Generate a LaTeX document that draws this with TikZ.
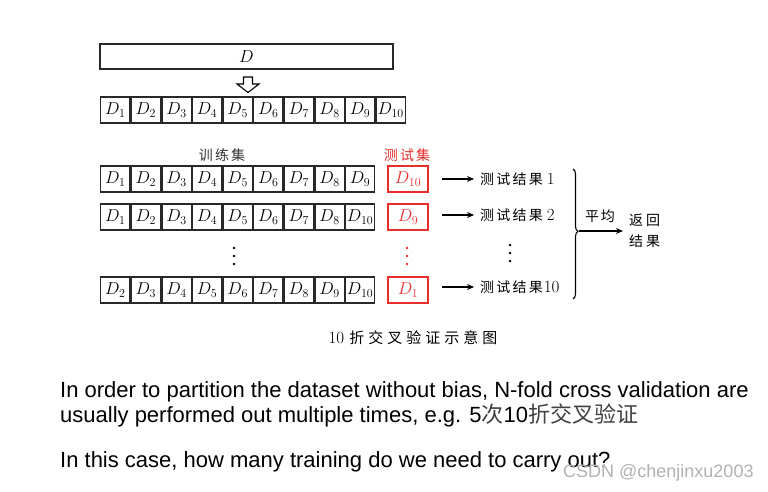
\documentclass[tikz,border=0pt]{standalone}
\usepackage{fontspec}
\newfontfamily\cjk{Noto Sans CJK SC}
\newfontfamily\arialf{Liberation Sans}
\usetikzlibrary{decorations.pathreplacing,arrows.meta}
\definecolor{tred}{RGB}{232,45,45}
\definecolor{boxline}{RGB}{40,40,40}
\newcommand{\gp}{\hspace{2.2pt}}
\tikzset{
  cell/.style={draw=boxline,line width=1.3pt,minimum width=29.3pt,minimum height=26pt,inner sep=0pt,anchor=west,font=\fontsize{18}{20}\selectfont},
  testbox/.style={draw=tred,line width=1.3pt,minimum width=40pt,minimum height=26pt,inner sep=0pt,text=tred,font=\fontsize{18}{20}\selectfont},
  zh/.style={font=\fontsize{14}{16}\selectfont\cjk,inner sep=0pt},
  res/.style={zh,anchor=west},
  arr/.style={-{Stealth[length=7pt,width=6pt]},line width=1.1pt},
  dotsty/.style={circle,fill,inner sep=0pt,minimum size=2.6pt},
  en/.style={font=\fontsize{22}{26}\selectfont\arialf,inner sep=0pt,anchor=base west}
}
\begin{document}
\begin{tikzpicture}[x=1pt,y=-1pt]
\useasboundingbox[fill=white] (0,0) rectangle (768,492);
% top D box
\node[draw=boxline,line width=1.3pt,minimum width=293pt,minimum height=25pt,inner sep=0pt,font=\fontsize{19}{20}\selectfont] (D) at (246.5,56.5) {$D$};
% hollow arrow
\draw[line width=1.1pt,fill=white] (243.5,77) -- (252.5,77) -- (252.5,84) -- (259,84) -- (248,92.5) -- (237,84) -- (243.5,84) -- cycle;
% row 0
\coordinate (r0s) at (100,110);
\foreach \i [remember=\i as \j (initially 0)] in {1,...,10}{
  \ifnum\i=1
    \node[cell] (r0c\i) at (r0s) {$D_{\i}$};
  \else
    \node[cell] (r0c\i) at (r0c\j.east) {$D_{\i}$};
  \fi
}
% labels
\node[zh,text=black!80] (trl) at (222,155) {训\gp 练\gp 集};
\node[zh,text=tred] (tel) at (407,155) {测\gp 试\gp 集};
% training rows
\coordinate (r1s) at (100,179);
\coordinate (r2s) at (100,217);
\coordinate (r4s) at (100,290);
\foreach \i [remember=\i as \j (initially 0)] in {1,...,9}{
  \ifnum\i=1
    \node[cell] (r1c\i) at (r1s) {$D_{\i}$};
  \else
    \node[cell] (r1c\i) at (r1c\j.east) {$D_{\i}$};
  \fi
}
\foreach \i/\lab [remember=\i as \j (initially 0)] in {1/1,2/2,3/3,4/4,5/5,6/6,7/7,8/8,9/10}{
  \ifnum\i=1
    \node[cell] (r2c\i) at (r2s) {$D_{\lab}$};
  \else
    \node[cell] (r2c\i) at (r2c\j.east) {$D_{\lab}$};
  \fi
}
\foreach \i/\lab [remember=\i as \j (initially 0)] in {1/2,2/3,3/4,4/5,5/6,6/7,7/8,8/9,9/10}{
  \ifnum\i=1
    \node[cell] (r4c\i) at (r4s) {$D_{\lab}$};
  \else
    \node[cell] (r4c\i) at (r4c\j.east) {$D_{\lab}$};
  \fi
}
% test boxes
\node[testbox] (t1) at (408,179) {$D_{10}$};
\node[testbox] (t2) at (408,217) {$D_{9}$};
\node[testbox] (t4) at (408,290) {$D_{1}$};
% dots
\foreach \y [count=\k] in {248,256,264}{
  \node[dotsty,black] (dl\k) at (234,\y) {};
  \node[dotsty,tred] (dr\k) at (407,\y) {};
  \node[dotsty,black] (dd\k) at (510,\y-3) {};
}
% results
\node[res] (res1) at (480,179) {测\gp 试\gp 结\gp 果\hspace{4pt}\fontsize{17}{16}\selectfont\rmfamily 1};
\node[res] (res2) at (480,215) {测\gp 试\gp 结\gp 果\hspace{4pt}\fontsize{17}{16}\selectfont\rmfamily 2};
\node[res] (res4) at (480,287) {测\gp 试\gp 结\gp 果\hspace{1pt}\fontsize{17}{16}\selectfont\rmfamily 10};
\coordinate (a1) at (442,179);
\coordinate (a2) at (442,215);
\coordinate (a4) at (442,287);
\draw[arr,shorten >=6pt] (a1) -- (res1.west);
\draw[arr,shorten >=6pt] (a2) -- (res2.west);
\draw[arr,shorten >=6pt] (a4) -- (res4.west);
% brace
\coordinate (bt) at (573,169);
\coordinate (bb) at (573,299);
\draw[line width=1.1pt,decorate,decoration={brace,amplitude=5pt,aspect=0.48}] (bt) -- (bb);
\coordinate (bm) at (579,231);
\node[zh,anchor=west] (ret1) at (629,220) {返\hspace{3pt}回};
\node[zh,anchor=west] (ret2) at (629,241) {结\hspace{3pt}果};
\coordinate (ae) at (623,231);
\draw[arr] (bm) -- (ae);
\node[zh] (avg) at (600,216) {平\hspace{2pt}均};
% caption
\node[inner sep=0pt,font=\fontsize{17}{18}\selectfont] (cap) at (413,338) {10 {\cjk\fontsize{15}{18}\selectfont 折\hspace{4pt}交\hspace{4pt}叉\hspace{4pt}验\hspace{4pt}证\hspace{4pt}示\hspace{4pt}意\hspace{4pt}图}};
% bottom text
\node[en] (l1) at (60,397) {In order to partition the dataset without bias, N-fold cross validation are};
\node[en] (l2) at (60,422) {usually performed out multiple times, e.g. 5{\cjk\color{black!75}次}10{\cjk\color{black!75}折交叉验证}};
\node[en] (l3) at (60,467) {In this case, how many training do we need to carry out?};
\node[font=\fontsize{18}{20}\selectfont\arialf,inner sep=0pt,anchor=base west,text=black!30] (wm) at (563,477) {CSDN @chenjinxu2003};
\end{tikzpicture}
\end{document}
